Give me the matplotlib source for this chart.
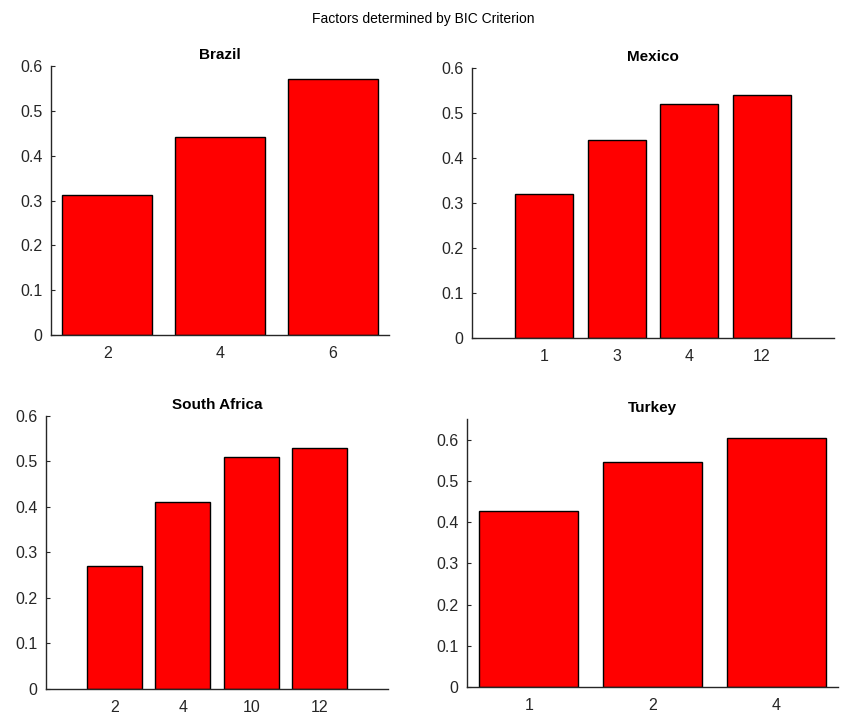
import matplotlib
matplotlib.use('Agg')
from matplotlib import pyplot as plt

plt.rcParams['font.family'] = ['Liberation Sans', 'DejaVu Sans']

# data
brazil_labels = ['2', '4', '6']
brazil_vals = [0.312, 0.441, 0.570]
mexico_labels = ['1', '3', '4', '12']
mexico_vals = [0.32, 0.44, 0.52, 0.54]
safrica_labels = ['2', '4', '10', '12']
safrica_vals = [0.27, 0.41, 0.51, 0.53]
turkey_labels = ['1', '2', '4']
turkey_vals = [0.428, 0.545, 0.604]

grey = '#262626'

fig = plt.figure(figsize=(8.46, 7.28), dpi=100)
fig.suptitle('Factors determined by BIC Criterion', y=0.983, fontsize=10, color='black')

panels = [
    ('Brazil', brazil_labels, brazil_vals, [0.0603, 0.5398, 0.3995, 0.3695], (0.5, 3.5), (0, 0.6)),
    ('Mexico', mexico_labels, mexico_vals, [0.5579, 0.5357, 0.4279, 0.3709], (0, 5), (0, 0.6)),
    ('South Africa', safrica_labels, safrica_vals, [0.0544, 0.0536, 0.4043, 0.3750], (0, 5), (0, 0.6)),
    ('Turkey', turkey_labels, turkey_vals, [0.5520, 0.0563, 0.4385, 0.3682], (0.5, 3.5), (0, 0.65)),
]

for name, labels, vals, rect, xlim, ylim in panels:
    ax = fig.add_axes(rect)
    pos = list(range(1, len(vals) + 1))
    ax.bar(pos, vals, width=0.8, color='#ff0000', edgecolor='black', linewidth=1.0, zorder=2)
    ax.set_xlim(*xlim)
    ax.set_ylim(*ylim)
    ax.set_xticks(pos)
    ax.set_xticklabels(labels)
    ax.set_yticks([0, 0.1, 0.2, 0.3, 0.4, 0.5, 0.6])
    ax.set_yticklabels(['0', '0.1', '0.2', '0.3', '0.4', '0.5', '0.6'])
    ax.set_title(name, fontsize=11, fontweight='bold', pad=5)
    ax.spines['top'].set_visible(False)
    ax.spines['right'].set_visible(False)
    for s in ('left', 'bottom'):
        ax.spines[s].set_color(grey)
        ax.spines[s].set_linewidth(1.0)
    ax.tick_params(direction='in', length=3, width=0.8, colors=grey, labelsize=11.5)
    ax.tick_params(axis='x', pad=8)
    ax.tick_params(axis='y', pad=6)

plt.savefig('out.png', dpi=100)
